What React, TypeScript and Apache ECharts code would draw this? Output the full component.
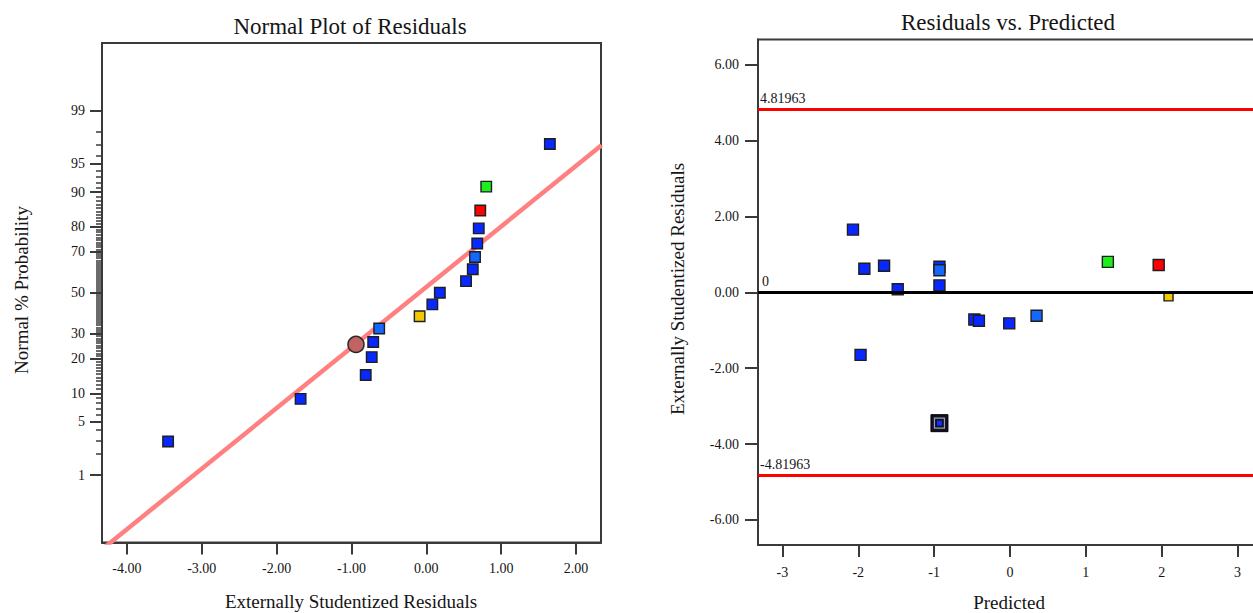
import React, { useEffect, useRef } from "react";
import * as echarts from "echarts";

// ---------- Data ----------
// Normal plot of residuals (left)
const normalResiduals = [-3.45, -1.68, -0.81, -0.73, -0.71, -0.63, -0.09, 0.08, 0.18, 0.53, 0.62, 0.65, 0.68, 0.7, 0.72, 0.8, 1.65];
const normalProbPct = [2.9, 8.8, 14.7, 20.6, 26.5, 32.4, 38.2, 44.1, 50.0, 55.9, 61.8, 67.6, 73.5, 79.4, 85.3, 91.2, 97.1];
const normalColors = ["blue", "blue", "blue", "blue", "blue", "light", "yellow", "blue", "blue", "blue", "blue", "light", "blue", "blue", "red", "green", "blue"];
const circleResidual = [-0.94];
const circleProbPct = [25.5];
const fitLineX = [-4.33, 2.34];
const fitLineZ = [-3.27, 1.88];
const probMajorTicks = [1, 5, 10, 20, 30, 50, 70, 80, 90, 95, 99];
const probMinorTicks = Array.from({ length: 99 }, (_, i) => i + 1);
const leftXTicks = [-4, -3, -2, -1, 0, 1, 2];

// Residuals vs predicted (right)
const predicted = [-2.07, -1.92, -1.66, -1.48, -0.93, -0.93, -0.93, -1.97, -0.47, -0.41, -0.01, 0.35, 1.29, 1.96, 2.09];
const studResiduals = [1.65, 0.62, 0.7, 0.08, 0.67, 0.58, 0.18, -1.65, -0.72, -0.75, -0.82, -0.62, 0.8, 0.72, -0.11];
const predColors = ["blue", "blue", "blue", "blue", "blue", "light", "blue", "blue", "blue", "blue", "blue", "light", "green", "red", "yellow"];
const highlightPredicted = [-0.93];
const highlightResidual = [-3.45];
const limitUpper = 4.81963;
const limitLower = -4.81963;
const rightXTicks = [-3, -2, -1, 0, 1, 2, 3];
const rightYTicks = [-6, -4, -2, 0, 2, 4, 6];

// ---------- Helpers ----------
const COLORS: Record<string, string> = {
  blue: "#0828ff",
  light: "#1468ff",
  yellow: "#f2c800",
  red: "#ff0000",
  green: "#1eee1e",
};

function probit(p: number): number {
  const a = [-3.969683028665376e1, 2.209460984245205e2, -2.759285104469687e2, 1.38357751867269e2, -3.066479806614716e1, 2.506628277459239];
  const b = [-5.447609879822406e1, 1.615858368580409e2, -1.556989798598866e2, 6.680131188771972e1, -1.328068155288572e1];
  const c = [-7.784894002430293e-3, -3.223964580411365e-1, -2.400758277161838, -2.549732539343734, 4.374664141464968, 2.938163982698783];
  const d = [7.784695709041462e-3, 3.224671290700398e-1, 2.445134137142996, 3.754408661907416];
  const pl = 0.02425;
  const ph = 1 - pl;
  let q: number, r: number;
  if (p < pl) {
    q = Math.sqrt(-2 * Math.log(p));
    return (((((c[0] * q + c[1]) * q + c[2]) * q + c[3]) * q + c[4]) * q + c[5]) / ((((d[0] * q + d[1]) * q + d[2]) * q + d[3]) * q + 1);
  }
  if (p <= ph) {
    q = p - 0.5;
    r = q * q;
    return ((((((a[0] * r + a[1]) * r + a[2]) * r + a[3]) * r + a[4]) * r + a[5]) * q) / (((((b[0] * r + b[1]) * r + b[2]) * r + b[3]) * r + b[4]) * r + 1);
  }
  q = Math.sqrt(-2 * Math.log(1 - p));
  return -(((((c[0] * q + c[1]) * q + c[2]) * q + c[3]) * q + c[4]) * q + c[5]) / ((((d[0] * q + d[1]) * q + d[2]) * q + d[3]) * q + 1);
}

const FONT_NAME = "Liberation Serif";
const FONT = "'Liberation Serif', serif";
const AXIS_COLOR = "#3a3a3a";
const TEXT_COLOR = "#151515";

export default function App() {
  const ref = useRef<HTMLDivElement>(null);

  useEffect(() => {
    document.body.style.margin = "0";
    document.body.style.overflow = "hidden";
    document.documentElement.style.overflow = "hidden";
    if (!ref.current) return;
    const chart = echarts.init(ref.current, undefined, { renderer: "svg" });

    const majorZ = probMajorTicks.map((p) => probit(p / 100));
    const minorZ = probMinorTicks.map((p) => probit(p / 100));
    const ZMAX = 3.184;

    const axisLineStyle = { show: true, onZero: false, lineStyle: { color: AXIS_COLOR, width: 2 } };
    const tickStyle = { color: AXIS_COLOR, width: 2 };
    const labelBase = { fontFamily: FONT_NAME, fontSize: 14, color: TEXT_COLOR };

    const squareStyle = (c: string) => ({
      color: COLORS[c],
      borderColor: "#1e1e1e",
      borderWidth: 1.4,
      opacity: 1,
    });

    const option: any = {
      animation: false,
      backgroundColor: "#ffffff",
      grid: [
        { left: 102, top: 43, width: 499, height: 499.5, show: true, borderColor: AXIS_COLOR, borderWidth: 2, backgroundColor: "transparent" },
        { left: 758, top: 39.5, width: 504, height: 505.5, show: true, borderColor: AXIS_COLOR, borderWidth: 2, backgroundColor: "transparent" },
      ],
      xAxis: [
        {
          type: "value",
          gridIndex: 0,
          position: "bottom",
          min: -4.333,
          max: 2.333,
          axisLine: axisLineStyle,
          axisTick: { show: true, customValues: leftXTicks, length: 12, lineStyle: tickStyle },
          axisLabel: { ...labelBase, customValues: leftXTicks, margin: 19, formatter: (v: number) => v.toFixed(2) },
          splitLine: { show: false },
        },
        {
          type: "value",
          gridIndex: 1,
          position: "bottom",
          min: -3.322,
          max: 3.322,
          axisLine: axisLineStyle,
          axisTick: { show: true, customValues: rightXTicks, length: 12, lineStyle: tickStyle },
          axisLabel: { ...labelBase, customValues: rightXTicks, margin: 20, formatter: (v: number) => String(v) },
          splitLine: { show: false },
        },
      ],
      yAxis: [
        {
          type: "value",
          gridIndex: 0,
          position: "left",
          min: -ZMAX,
          max: ZMAX,
          axisLine: axisLineStyle,
          axisTick: { show: true, customValues: majorZ, length: 12, lineStyle: tickStyle },
          axisLabel: {
            ...labelBase,
            customValues: majorZ,
            margin: 17,
            padding: [0, 0, 6, 0],
            formatter: (v: number) => {
              let best = probMajorTicks[0];
              let bd = Infinity;
              probMajorTicks.forEach((p, i) => {
                const dd = Math.abs(majorZ[i] - v);
                if (dd < bd) {
                  bd = dd;
                  best = p;
                }
              });
              return String(best);
            },
          },
          splitLine: { show: false },
        },
        {
          type: "value",
          gridIndex: 0,
          position: "left",
          offset: 0,
          min: -ZMAX,
          max: ZMAX,
          axisLine: { show: false, onZero: false },
          axisTick: { show: true, customValues: minorZ, length: 6, lineStyle: { color: AXIS_COLOR, width: 1.5 } },
          axisLabel: { show: false },
          splitLine: { show: false },
        },
        {
          type: "value",
          gridIndex: 1,
          position: "left",
          min: -6.66,
          max: 6.66,
          axisLine: axisLineStyle,
          axisTick: { show: true, customValues: rightYTicks, length: 13, lineStyle: tickStyle },
          axisLabel: { ...labelBase, customValues: rightYTicks, margin: 19, padding: [0, 0, 6, 0], formatter: (v: number) => v.toFixed(2) },
          splitLine: { show: false },
        },
      ],
      series: [
        {
          type: "line",
          xAxisIndex: 0,
          yAxisIndex: 0,
          data: fitLineX.map((x, i) => [x, fitLineZ[i]]),
          symbol: "none",
          clip: true,
          silent: true,
          lineStyle: { color: "#ff8080", width: 4.5 },
          z: 1,
        },
        {
          type: "scatter",
          xAxisIndex: 0,
          yAxisIndex: 0,
          symbol: "rect",
          symbolSize: 10.5,
          data: normalResiduals.map((x, i) => ({
            value: [x, probit(normalProbPct[i] / 100)],
            itemStyle: squareStyle(normalColors[i]),
          })),
          z: 3,
        },
        {
          type: "scatter",
          xAxisIndex: 0,
          yAxisIndex: 0,
          symbol: "circle",
          symbolSize: 16,
          data: circleResidual.map((x, i) => [x, probit(circleProbPct[i] / 100)]),
          itemStyle: { color: "#c26262", borderColor: "#2a2a2a", borderWidth: 1.5, opacity: 1 },
          z: 4,
        },
        {
          type: "scatter",
          xAxisIndex: 1,
          yAxisIndex: 2,
          symbolSize: 0,
          data: predicted.map((x, i) => [x, studResiduals[i]]),
          silent: true,
          z: 1,
          markLine: {
            silent: true,
            symbol: "none",
            animation: false,
            data: [
              {
                yAxis: limitUpper,
                lineStyle: { color: "#ff0000", width: 3, type: "solid" },
                label: { show: true, position: "insideStartTop", formatter: "4.81963", distance: [2, 4], fontFamily: FONT_NAME, fontSize: 14, color: TEXT_COLOR },
              },
              {
                yAxis: limitLower,
                lineStyle: { color: "#ff0000", width: 3, type: "solid" },
                label: { show: true, position: "insideStartTop", formatter: "-4.81963", distance: [2, 4], fontFamily: FONT_NAME, fontSize: 14, color: TEXT_COLOR },
              },
              {
                yAxis: 0,
                lineStyle: { color: "#000000", width: 3, type: "solid" },
                label: { show: true, position: "insideStartTop", formatter: "0", distance: [4, 4], fontFamily: FONT_NAME, fontSize: 14, color: TEXT_COLOR },
              },
            ],
          },
        },
        {
          type: "scatter",
          xAxisIndex: 1,
          yAxisIndex: 2,
          symbol: "rect",
          data: predicted.map((x, i) => ({
            value: [x, studResiduals[i]],
            symbolSize: predColors[i] === "yellow" ? 9 : 11,
            itemStyle: squareStyle(predColors[i]),
          })),
          z: 3,
        },
        {
          type: "scatter",
          xAxisIndex: 1,
          yAxisIndex: 2,
          symbol: "rect",
          symbolSize: 17,
          data: highlightPredicted.map((x, i) => [x, highlightResidual[i]]),
          itemStyle: { color: "#10102a", borderColor: "#000000", borderWidth: 1, opacity: 1 },
          z: 4,
        },
        {
          type: "scatter",
          xAxisIndex: 1,
          yAxisIndex: 2,
          symbol: "rect",
          symbolSize: 10,
          data: highlightPredicted.map((x, i) => [x, highlightResidual[i]]),
          itemStyle: { color: "#10102a", borderColor: "#a0a0a0", borderWidth: 1.2, opacity: 1 },
          z: 5,
        },
        {
          type: "scatter",
          xAxisIndex: 1,
          yAxisIndex: 2,
          symbol: "rect",
          symbolSize: 5,
          data: highlightPredicted.map((x, i) => [x, highlightResidual[i]]),
          itemStyle: { color: "#1030ff", opacity: 1 },
          z: 6,
        },
      ],
      graphic: [
        {
          type: "text",
          x: 350,
          y: 26,
          style: { text: "Normal Plot of Residuals", font: `23px ${FONT}`, fill: TEXT_COLOR, textAlign: "center", textVerticalAlign: "middle" },
        },
        {
          type: "text",
          x: 1008,
          y: 22,
          style: { text: "Residuals vs. Predicted", font: `23px ${FONT}`, fill: TEXT_COLOR, textAlign: "center", textVerticalAlign: "middle" },
        },
        {
          type: "text",
          x: 351,
          y: 601,
          style: { text: "Externally Studentized Residuals", font: `19px ${FONT}`, fill: TEXT_COLOR, textAlign: "center", textVerticalAlign: "middle" },
        },
        {
          type: "text",
          x: 1009,
          y: 602,
          style: { text: "Predicted", font: `19px ${FONT}`, fill: TEXT_COLOR, textAlign: "center", textVerticalAlign: "middle" },
        },
        {
          type: "text",
          x: 21,
          y: 290,
          rotation: Math.PI / 2,
          style: { text: "Normal % Probability", font: `19px ${FONT}`, fill: TEXT_COLOR, textAlign: "center", textVerticalAlign: "middle" },
        },
        {
          type: "text",
          x: 677,
          y: 289,
          rotation: Math.PI / 2,
          style: { text: "Externally Studentized Residuals", font: `19px ${FONT}`, fill: TEXT_COLOR, textAlign: "center", textVerticalAlign: "middle" },
        },
      ],
    };

    chart.setOption(option);
    return () => {
      chart.dispose();
    };
  }, []);

  return <div ref={ref} style={{ width: 1266, height: 613 }} />;
}
